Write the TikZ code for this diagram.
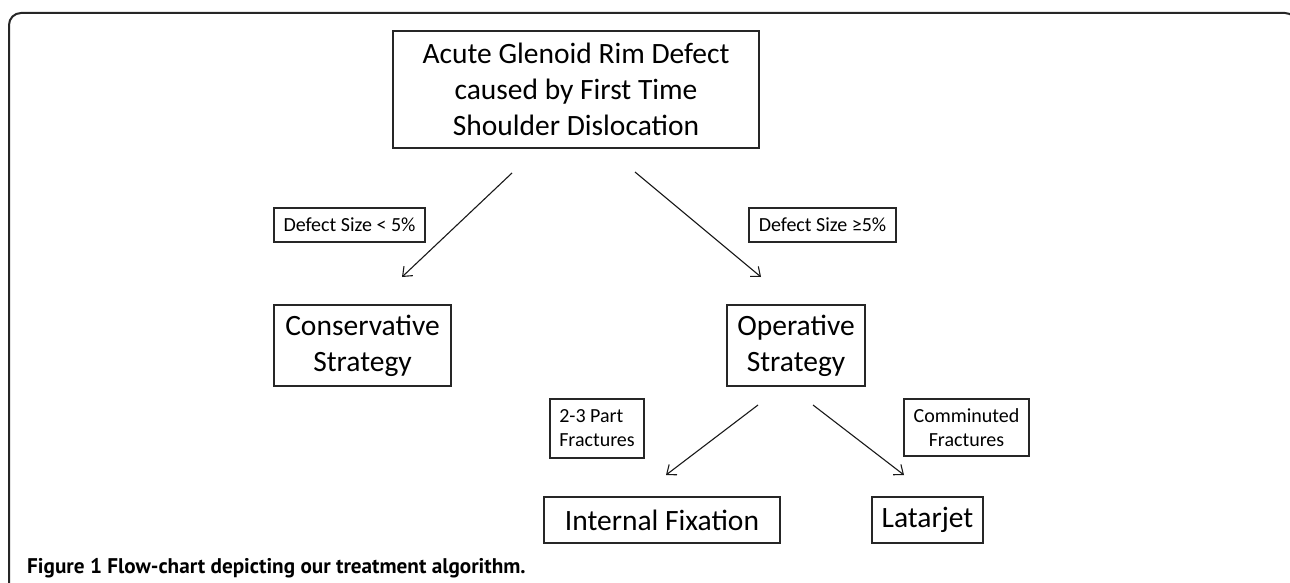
\documentclass[tikz,border=0pt]{standalone}
\usepackage{fontspec}
\setmainfont{Carlito}
\newfontfamily\capfont{PT Sans}
\usetikzlibrary{arrows.meta}
\begin{document}
\begin{tikzpicture}[x=1pt,y=1pt]
	\tikzstyle{every node}+=[inner sep=0pt]
	\tikzstyle{box}=[draw=black!85, line width=1.3pt, align=center, font=\fontsize{29.5}{36}\selectfont]
	\tikzstyle{cond}=[draw=black!85, line width=1.2pt, align=center, font=\fontsize{20}{24}\selectfont]
	\tikzstyle{arr}=[black!90, line width=1.1pt, -{Straight Barb[length=8pt,width=13pt]}]
	\clip (0,0) rectangle (1290,-583);
	\draw [black!85, line width=2pt, rounded corners=12pt] (9,-600) -- (9,-13) -- (1297,-13) -- (1297,-600);
	\node [box, minimum width=366pt, minimum height=117pt] (cause) at (576,-89.5) {Acute Glenoid Rim Defect\\caused by First Time\\Shoulder Dislocation};
	\node [cond, minimum width=151pt, minimum height=34pt] (small) at (349.5,-225) {Defect Size < 5\%};
	\node [cond, minimum width=147pt, minimum height=34pt] (large) at (822.5,-225) {Defect Size ≥5\%};
	\node [box, minimum width=177pt, minimum height=81pt] (cons) at (362.5,-345.5) {Conservative\\Strategy};
	\node [box, minimum width=138pt, minimum height=81pt] (oper) at (796,-345.5) {Operative\\Strategy};
	\node [cond, align=left, minimum width=94pt, minimum height=59pt] (part) at (597,-428.5) {2-3 Part\\Fractures};
	\node [cond, minimum width=125pt, minimum height=57pt] (comm) at (966.5,-427.5) {Comminuted\\Fractures};
	\node [box, minimum width=236pt, minimum height=46pt] (fix) at (662,-520) {Internal Fixation};
	\node [box, minimum width=111pt, minimum height=46pt] (lat) at (927.5,-520) {Latarjet};
	\coordinate (cause-l) at (512,-173);
	\coordinate (cause-r) at (635,-172);
	\coordinate (cons-in) at (402,-277);
	\coordinate (oper-in) at (761,-277);
	\coordinate (oper-l) at (758,-405);
	\coordinate (oper-r) at (813,-405);
	\coordinate (fix-in) at (666,-475);
	\coordinate (lat-in) at (904,-475);
	\draw [arr] (cause-l) -- (cons-in);
	\draw [arr] (cause-r) -- (oper-in);
	\draw [arr] (oper-l) -- (fix-in);
	\draw [arr] (oper-r) -- (lat-in);
	\node [anchor=base west, font=\capfont\bfseries\fontsize{21.2}{23}\selectfont] (caption) at (27,-573) {Figure 1 Flow-chart depicting our treatment algorithm.};
\end{tikzpicture}
\end{document}
